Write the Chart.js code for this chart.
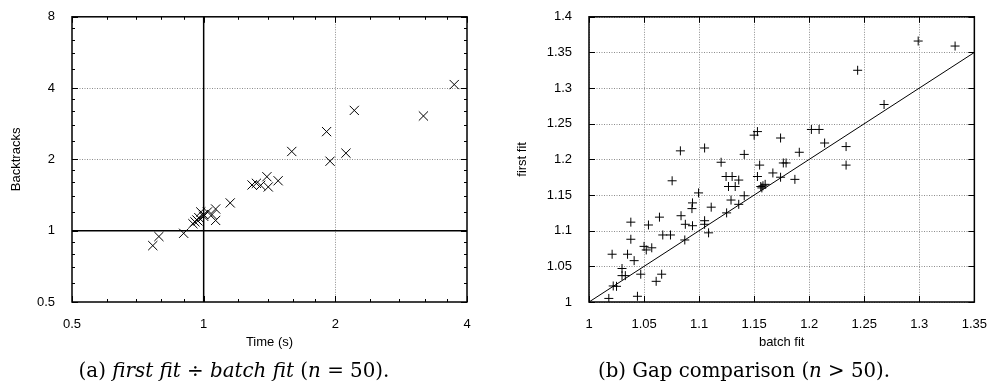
<!DOCTYPE html>
<html><head><meta charset="utf-8">
<script src="https://cdn.jsdelivr.net/npm/chart.js@4.4.0/dist/chart.umd.min.js"></script>
<style>
html,body{margin:0;padding:0;background:#fff;}
#wrap{position:relative;width:994px;height:386px;overflow:hidden;background:#fff;}
canvas{position:absolute;top:0;}
.cap{position:absolute;font-family:"DejaVu Serif","Liberation Serif",serif;font-size:18px;color:#000;white-space:nowrap;transform:translate(-50%,-50%);top:371px;line-height:22px;}
</style></head><body>
<div id="wrap">
<canvas id="c1" width="490" height="386" style="left:0"></canvas>
<canvas id="c2" width="504" height="386" style="left:490px"></canvas>
<div class="cap" id="capA" data-w="311" style="left:234px">(a) <i>first fit</i> ÷ <i>batch fit</i> (<i>n</i> = 50).</div>
<div class="cap" id="capB" data-w="292" style="left:744px">(b) Gap comparison (<i>n</i> &gt; 50).</div>
</div>
<script>
// ---- Left panel data: time ratio vs backtracks ratio ----
const leftTime = [0.765,0.79,0.90,0.945,0.955,0.965,0.975,0.97,0.985,1.0,1.0,1.02,1.045,1.065,1.065,1.15,1.29,1.32,1.35,1.395,1.405,1.48,1.59,1.91,1.945,2.115,2.21,3.18,3.74];
const leftBacktracks = [0.865,0.945,0.975,1.07,1.09,1.11,1.135,1.10,1.20,1.17,1.15,1.20,1.17,1.235,1.105,1.31,1.56,1.585,1.555,1.69,1.53,1.625,2.16,2.62,1.965,2.125,3.22,3.05,4.14];
const leftXTicks = [0.5,1,2,4];
const leftYTicks = [0.5,1,2,4,8];
const leftXMinor = [0.6,0.7,0.8,0.9,1.2,1.4,1.6,1.8,2.4,2.8,3.2,3.6];
const leftYMinor = [0.6,0.7,0.8,0.9,1.2,1.4,1.6,1.8,2.4,2.8,3.2,3.6,4.8,5.6,6.4,7.2];
const leftGridX = [2];
const leftGridY = [2,4];
const leftRef = 1;

// ---- Right panel data: batch fit vs first fit ----
const rightBatch = [1.018,1.021,1.022,1.025,1.030,1.030,1.033,1.035,1.038,1.038,1.041,1.044,1.047,1.050,1.052,1.054,1.057,1.061,1.064,1.066,1.067,1.074,1.0755,1.083,1.0836,1.087,1.0875,1.0935,1.094,1.094,1.0995,1.105,1.105,1.105,1.1086,1.111,1.120,1.125,1.1245,1.130,1.1267,1.1328,1.129,1.136,1.136,1.141,1.141,1.150,1.153,1.155,1.153,1.156,1.158,1.160,1.157,1.167,1.174,1.174,1.1765,1.179,1.187,1.191,1.202,1.209,1.214,1.2335,1.2335,1.244,1.268,1.299,1.3325];
const rightFirst = [1.005,1.067,1.0225,1.022,1.047,1.037,1.037,1.067,1.112,1.088,1.058,1.008,1.039,1.078,1.073,1.108,1.076,1.029,1.119,1.039,1.094,1.094,1.170,1.212,1.121,1.087,1.109,1.131,1.139,1.107,1.153,1.216,1.114,1.109,1.097,1.133,1.196,1.125,1.176,1.176,1.162,1.162,1.143,1.171,1.137,1.207,1.149,1.234,1.239,1.192,1.176,1.162,1.163,1.165,1.160,1.181,1.230,1.175,1.195,1.195,1.172,1.210,1.242,1.242,1.223,1.218,1.192,1.325,1.277,1.366,1.359];
const rightXTicks = [1,1.05,1.1,1.15,1.2,1.25,1.3,1.35];
const rightYTicks = [1,1.05,1.1,1.15,1.2,1.25,1.3,1.35,1.4];
const rightDiag = [1,1.35];

const SANS = '"Liberation Sans", Arial, Helvetica, sans-serif';

// fit caption widths to the reference
for (const el of document.querySelectorAll('.cap')) {
  const target = +el.dataset.w;
  const w = el.getBoundingClientRect().width;
  el.style.fontSize = (18 * target / w).toFixed(2) + 'px';
}

const framePlugin = {
  id: 'frame',
  beforeDatasetsDraw(chart, args, o) {
    const {ctx, chartArea: a, scales: {x, y}} = chart;
    ctx.save();
    ctx.strokeStyle = '#8c8c8c'; ctx.lineWidth = 1; ctx.setLineDash([1, 1.5]);
    ctx.beginPath();
    for (const v of o.gridX) { const p = Math.round(x.getPixelForValue(v)) + 0.5; ctx.moveTo(p, a.top); ctx.lineTo(p, a.bottom); }
    for (const v of o.gridY) { const p = Math.round(y.getPixelForValue(v)) + 0.5; ctx.moveTo(a.left, p); ctx.lineTo(a.right, p); }
    ctx.stroke();
    ctx.restore();
  },
  afterDatasetsDraw(chart, args, o) {
    const {ctx, chartArea: a, scales: {x, y}} = chart;
    ctx.save();
    ctx.setLineDash([]);
    ctx.strokeStyle = '#000'; ctx.lineWidth = 1;
    ctx.beginPath();
    const tick = (vals, len, horiz) => {
      for (const v of vals) {
        if (horiz) {
          const p = Math.round(x.getPixelForValue(v)) + 0.5;
          ctx.moveTo(p, a.bottom); ctx.lineTo(p, a.bottom - len);
          ctx.moveTo(p, a.top); ctx.lineTo(p, a.top + len);
        } else {
          const p = Math.round(y.getPixelForValue(v)) + 0.5;
          ctx.moveTo(a.left, p); ctx.lineTo(a.left + len, p);
          ctx.moveTo(a.right, p); ctx.lineTo(a.right - len, p);
        }
      }
    };
    tick(o.majorX, 6, true); tick(o.majorY, 6, false);
    tick(o.minorX, 3, true); tick(o.minorY, 3, false);
    ctx.stroke();
    ctx.lineWidth = 1.5;
    ctx.strokeRect(a.left, a.top, a.right - a.left, a.bottom - a.top);
    ctx.restore();
  }
};

function axis(type, min, max, ticks, title, isX, titlePad, fit) {
  return {
    type, min, max,
    afterBuildTicks: s => { s.ticks = ticks.map(v => ({value: v})); },
    afterFit: s => { if (isX) s.height = fit; else s.width = fit; },
    grid: {display: false}, border: {display: false},
    ticks: {callback: v => String(v), font: {family: SANS, size: 13}, color: '#000', padding: isX ? 7 : 9, maxRotation: 0, autoSkip: false},
    title: {display: true, text: title, font: {family: SANS, size: 13}, color: '#000', padding: titlePad}
  };
}

new Chart(document.getElementById('c1'), {
  type: 'scatter',
  data: {datasets: [
    {data: leftTime.map((t, i) => ({x: t, y: leftBacktracks[i]})), pointStyle: 'crossRot', pointRadius: 6.5, borderColor: '#000', backgroundColor: 'rgba(0,0,0,0)', borderWidth: 1},
    {data: [{x: leftRef, y: leftYTicks[0]}, {x: leftRef, y: leftYTicks[leftYTicks.length - 1]}], showLine: true, pointRadius: 0, borderColor: '#000', borderWidth: 1.5},
    {data: [{x: leftXTicks[0], y: leftRef}, {x: leftXTicks[leftXTicks.length - 1], y: leftRef}], showLine: true, pointRadius: 0, borderColor: '#000', borderWidth: 1.5}
  ]},
  options: {
    responsive: false, animation: false, devicePixelRatio: 1,
    layout: {padding: {left: 0, right: 23, top: 13, bottom: 33}},
    plugins: {legend: {display: false}, tooltip: {enabled: false},
      frame: {gridX: leftGridX, gridY: leftGridY, majorX: leftXTicks, majorY: leftYTicks, minorX: leftXMinor, minorY: leftYMinor}},
    scales: {
      x: axis('logarithmic', 0.5, 4, leftXTicks, 'Time (s)', true, {top: 0, bottom: 3}, 51),
      y: axis('logarithmic', 0.5, 8, leftYTicks, 'Backtracks', false, {top: 9, bottom: 0}, 72)
    }
  },
  plugins: [framePlugin]
});

new Chart(document.getElementById('c2'), {
  type: 'scatter',
  data: {datasets: [
    {data: rightBatch.map((b, i) => ({x: b, y: rightFirst[i]})), pointStyle: 'cross', pointRadius: 4.5, borderColor: '#000', backgroundColor: 'rgba(0,0,0,0)', borderWidth: 1},
    {data: rightDiag.map(v => ({x: v, y: v})), showLine: true, pointRadius: 0, borderColor: '#000', borderWidth: 1}
  ]},
  options: {
    responsive: false, animation: false, devicePixelRatio: 1,
    layout: {padding: {left: 0, right: 18, top: 13, bottom: 33}},
    plugins: {legend: {display: false}, tooltip: {enabled: false},
      frame: {gridX: rightXTicks, gridY: rightYTicks, majorX: rightXTicks, majorY: rightYTicks, minorX: [], minorY: []}},
    scales: {
      x: axis('linear', 1, 1.35, rightXTicks, 'batch fit', true, {top: 0, bottom: 3}, 51),
      y: axis('linear', 1, 1.4, rightYTicks, 'first fit', false, {top: 25, bottom: 0}, 99)
    }
  },
  plugins: [framePlugin]
});
</script>
</body></html>
